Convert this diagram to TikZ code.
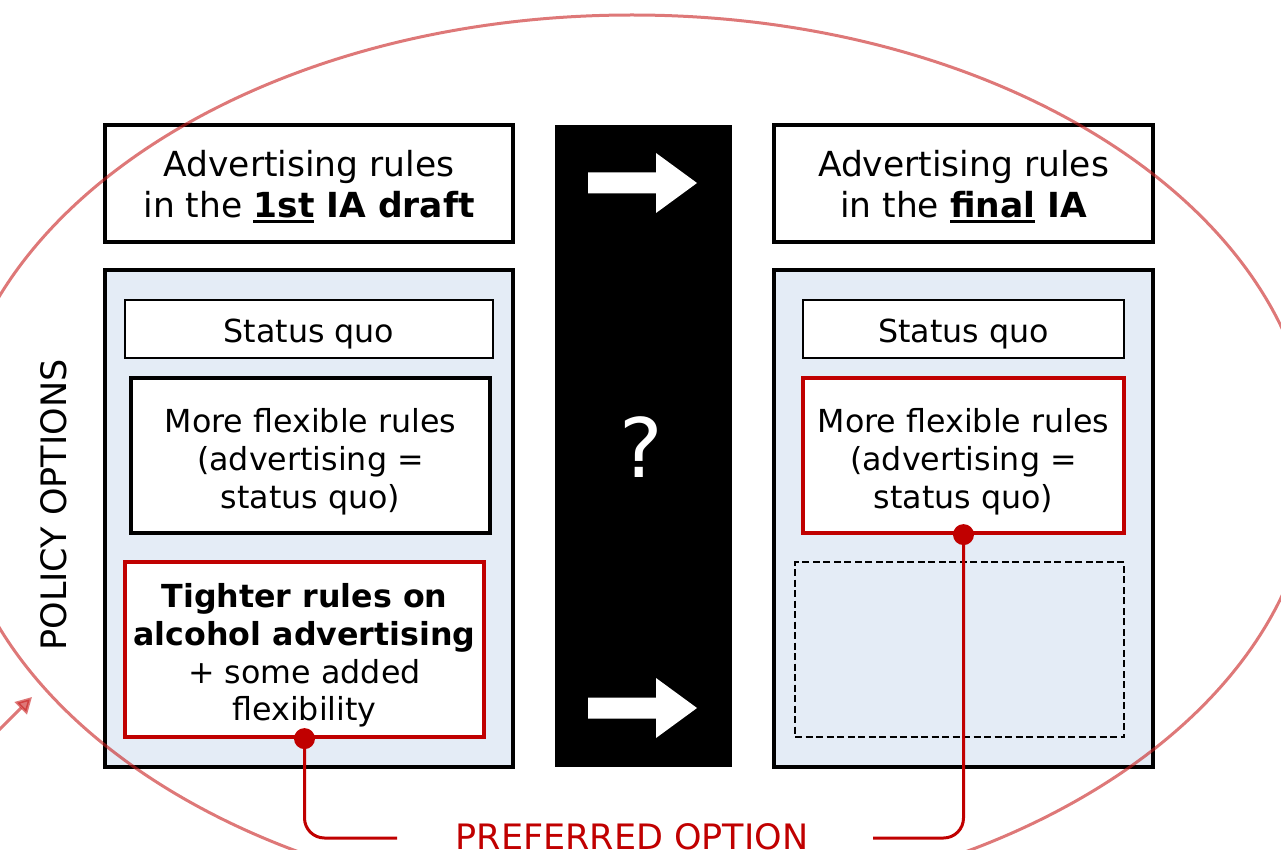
\documentclass[tikz,border=0pt]{standalone}
\usepackage{fontspec}
\setmainfont{DejaVu Sans}
\usetikzlibrary{arrows.meta}
\definecolor{panelblue}{RGB}{228,236,246}
\definecolor{optred}{RGB}{192,0,0}
\definecolor{ringred}{RGB}{200,30,30}
% underlined word with a heavier rule than \underline gives
\newcommand\ulword[1]{\vtop{\hbox{#1}\kern2.5pt\hrule height 2.5pt}}
% invisible strut that lowers a centred text block a little
\newcommand\padtop[1]{\rule{0pt}{#1}}
\newcommand\hdrfont{\fontsize{34.5}{41.5}\selectfont}
\newcommand\bodyfont{\fontsize{31.7}{37.8}\selectfont}
\newcommand\capsfont{\fontsize{35}{42}\selectfont}

\begin{document}
\begin{tikzpicture}[x=1pt,y=-1pt,
  hdr/.style={draw=black, line width=3.5pt, fill=white, align=center, inner sep=0pt, font=\hdrfont},
  panel/.style={draw=black, line width=3.5pt, fill=panelblue, inner sep=0pt},
  opt/.style={draw=black, line width=2.8pt, fill=white, align=center, inner sep=0pt, font=\bodyfont},
  chosen/.style={opt, draw=optred},
  blank/.style={draw=black, line width=2pt, dash pattern=on 7pt off 3.5pt, inner sep=0pt},
  link/.style={draw=optred, line width=3pt, rounded corners=20pt},
  dot/.style={circle, fill=optred, minimum size=21pt, inner sep=0pt},
  ring/.style={draw=ringred, opacity=0.6, line width=3pt},
  gapbar/.style={fill=black, inner sep=0pt}
]
\useasboundingbox (0,0) rectangle (1281,850);
\clip (0,0) rectangle (1281,850);

% headers
\node[hdr, minimum width=408pt, minimum height=117pt] (hdrL) at (309,183.5)
  {\padtop{32pt}Advertising rules\\in the \textbf{\ulword{1st} IA draft}};
\node[hdr, minimum width=379pt, minimum height=117pt] (hdrR) at (963.5,183.5)
  {\padtop{32pt}Advertising rules\\in the \textbf{\ulword{final} IA}};

% option panels
\node[panel, minimum width=408pt, minimum height=497pt] (panL) at (309,518.5) {};
\node[panel, minimum width=379pt, minimum height=497pt] (panR) at (963.5,518.5) {};

% left panel options
\node[opt, minimum width=368pt, minimum height=58pt] (sqL) at (309,329) {\padtop{34pt}Status quo};
\node[opt, line width=3.2pt, minimum width=359pt, minimum height=155pt] (flexL) at (310.5,455.5)
  {\padtop{36pt}More flexible rules\\(advertising =\\status quo)};
\node[chosen, line width=3.2pt, minimum width=359pt, minimum height=175pt] (tightL) at (304.5,649.5)
  {\padtop{36pt}\textbf{Tighter rules on}\\\textbf{alcohol advertising}\\+ some added\\flexibility};

% right panel options
\node[opt, minimum width=321pt, minimum height=58pt] (sqR) at (963.5,329) {\padtop{34pt}Status quo};
\node[chosen, line width=3.2pt, minimum width=321pt, minimum height=155pt] (flexR) at (963.5,455.5)
  {\padtop{36pt}More flexible rules\\(advertising =\\status quo)};
\node[blank, minimum width=329pt, minimum height=175pt] (emptyR) at (959.5,649.5) {};

% middle bar with arrows and question mark
\node[gapbar, minimum width=177pt, minimum height=642pt] (gap) at (643.5,446) {};
\node[text=white, font=\fontsize{82}{90}\selectfont, inner sep=0pt] (qm) at (641.5,447) {?};
\foreach \yy in {183,708}{
  \fill[white] (588,{\yy-10.5}) -- (656,{\yy-10.5}) -- (656,{\yy-30}) -- (697,\yy)
    -- (656,{\yy+30}) -- (656,{\yy+10.5}) -- (588,{\yy+10.5}) -- cycle;
}

% preferred option links
\coordinate (endL) at (397,838);
\coordinate (endR) at (873,838);
\draw[link] (tightL.south) |- (endL);
\draw[link] (flexR.south) |- (endR);
\node[dot] (dotL) at (tightL.south) {};
\node[dot] (dotR) at (flexR.south) {};
\node[text=optred, font=\capsfont, anchor=base, inner sep=0pt] (pref) at (632,849) {PREFERRED OPTION};

% side label
\node[rotate=90, font=\capsfont, inner sep=0pt] (pol) at (54,505) {POLICY OPTIONS};

% enclosing ring and pointer
\draw[ring] (632,462) ellipse [x radius=681pt, y radius=447pt];
\coordinate (ptail) at (-25,754);
\coordinate (ptip) at (32,697);
\draw[ring, -{Triangle[length=16pt,width=17pt]}] (ptail) -- (ptip);
\end{tikzpicture}
\end{document}
